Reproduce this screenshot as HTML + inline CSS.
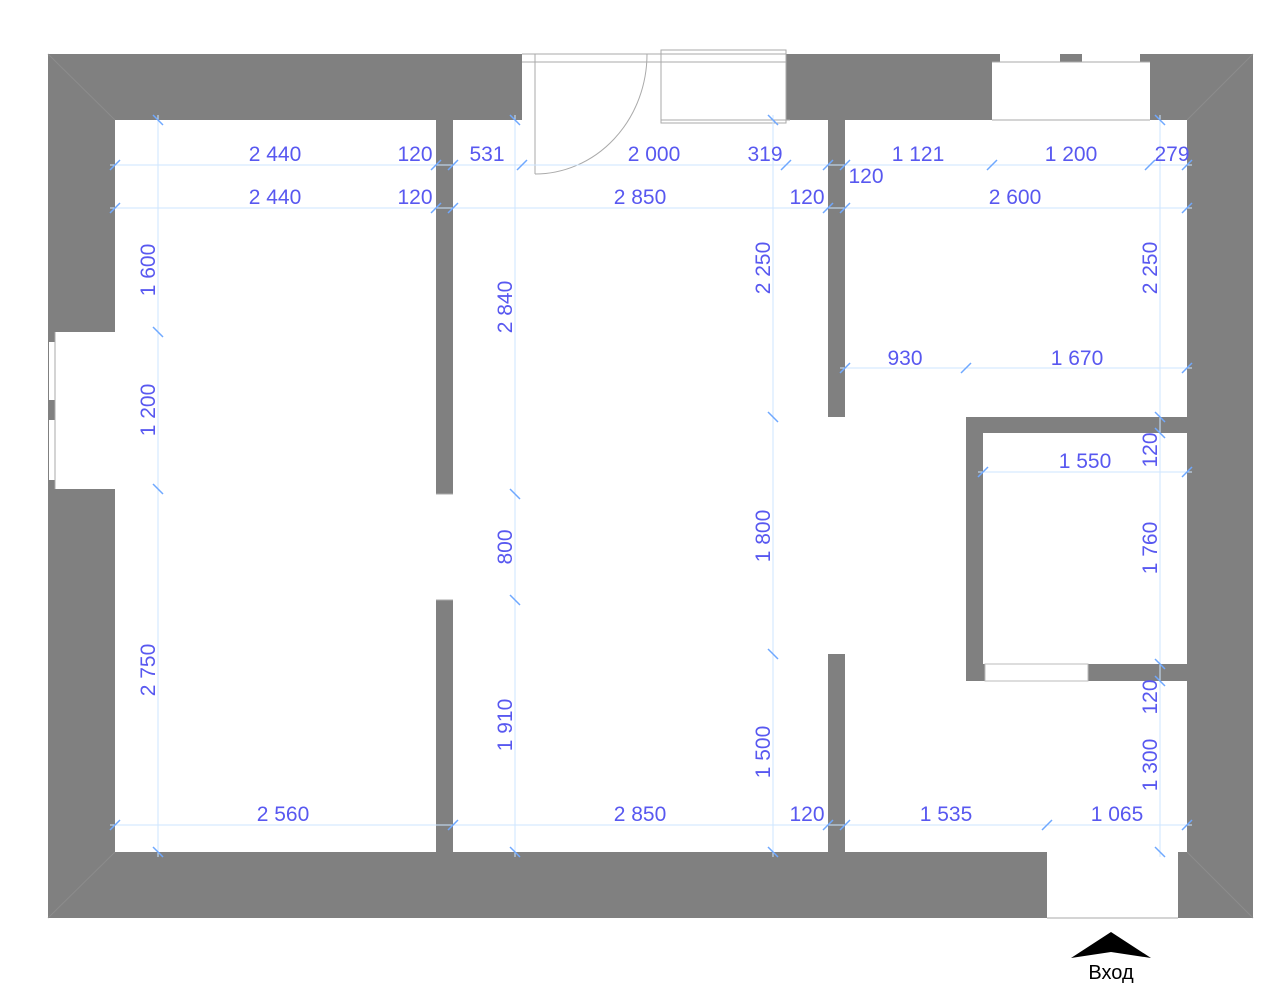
<!DOCTYPE html>
<html><head><meta charset="utf-8"><style>html,body{margin:0;padding:0;background:#fff}svg{display:block}</style></head><body>
<svg width="1283" height="1000" viewBox="0 0 1283 1000" xmlns="http://www.w3.org/2000/svg" font-family="Liberation Sans, sans-serif">
<!-- outer walls -->
<rect x="48" y="54" width="1205" height="864" fill="#808080"/>
<!-- corner diagonals -->
<g stroke="#8c8c8c" stroke-width="1">
<line x1="48" y1="54" x2="115" y2="120"/><line x1="1253" y1="54" x2="1187" y2="120"/>
<line x1="48" y1="918" x2="115" y2="852"/><line x1="1253" y1="918" x2="1187" y2="852"/>
</g>
<g fill="#fff">
<rect x="115" y="120" width="321" height="732"/>
<rect x="453" y="120" width="375" height="732"/>
<rect x="845" y="120" width="342" height="732"/>
<rect x="828" y="417" width="17" height="237"/>
<rect x="436" y="494" width="17" height="106"/>
<!-- top door opening -->
<rect x="522" y="54" width="264" height="66"/>
<!-- top right window -->
<rect x="992" y="62" width="158" height="58"/>
<rect x="1000" y="54" width="60" height="8"/><rect x="1082" y="54" width="58" height="8"/>
<!-- left window -->
<rect x="55" y="332" width="60" height="157"/>
<rect x="49" y="342" width="6" height="58"/><rect x="49" y="420" width="6" height="60"/>
<!-- entrance -->
<rect x="1047" y="852" width="131" height="66"/>
</g>
<!-- bathroom -->
<rect x="966" y="417" width="221" height="264" fill="#808080"/>
<rect x="983" y="433" width="204" height="231" fill="#fff"/>
<rect x="985" y="664" width="103" height="17" fill="#fff" stroke="#bbb" stroke-width="1"/>
<!-- door & window lines -->
<g fill="none" stroke="#aaa" stroke-width="1">
<line x1="522" y1="54" x2="786" y2="54"/><line x1="522" y1="62" x2="786" y2="62"/>
<line x1="535" y1="54" x2="535" y2="174"/>
<path d="M535 174 A112 120 0 0 0 647 54"/>
<rect x="661" y="50" width="125" height="73"/>
<line x1="661" y1="120" x2="790" y2="120"/>
<line x1="436" y1="494" x2="453" y2="494"/><line x1="436" y1="600" x2="453" y2="600"/>
<line x1="992" y1="62" x2="1150" y2="62"/><line x1="992" y1="120" x2="1150" y2="120"/>
<line x1="55" y1="332" x2="55" y2="489"/>
<line x1="1047" y1="918" x2="1178" y2="918"/>
</g>
<!-- dimension lines -->
<g stroke="#cde6ff" stroke-width="1">
<line x1="110" y1="165" x2="1192" y2="165"/>
<line x1="110" y1="208" x2="1192" y2="208"/>
<line x1="840" y1="368" x2="1192" y2="368"/>
<line x1="978" y1="472" x2="1192" y2="472"/>
<line x1="110" y1="825" x2="1192" y2="825"/>
<line x1="158" y1="115" x2="158" y2="857"/>
<line x1="515" y1="115" x2="515" y2="857"/>
<line x1="773" y1="115" x2="773" y2="857"/>
<line x1="1160" y1="115" x2="1160" y2="857"/>
</g>
<g stroke="#6fa8ff" stroke-width="1.5">
<path d="M110 170l10-10M431 170l10-10M448 170l10-10M517 170l10-10M781 170l10-10M823 170l10-10M840 170l10-10M987 170l10-10M1145 170l10-10M1182 170l10-10"/>
<path d="M110 213l10-10M431 213l10-10M448 213l10-10M823 213l10-10M840 213l10-10M1182 213l10-10"/>
<path d="M840 373l10-10M961 373l10-10M1182 373l10-10"/>
<path d="M978 477l10-10M1182 477l10-10"/>
<path d="M110 830l10-10M448 830l10-10M823 830l10-10M840 830l10-10M1042 830l10-10M1182 830l10-10"/>
<path d="M153 115l10 10M153 327l10 10M153 484l10 10M153 847l10 10"/>
<path d="M510 115l10 10M510 489l10 10M510 595l10 10M510 847l10 10"/>
<path d="M768 115l10 10M768 412l10 10M768 649l10 10M768 847l10 10"/>
<path d="M1155 115l10 10M1155 412l10 10M1155 428l10 10M1155 659l10 10M1155 676l10 10M1155 847l10 10"/>
</g>
<g fill="#5858f0" font-size="21" text-anchor="middle">
<text x="275" y="161">2 440</text><text x="415" y="161">120</text><text x="487" y="161">531</text>
<text x="654" y="161">2 000</text><text x="765" y="161">319</text><text x="866" y="183">120</text>
<text x="918" y="161">1 121</text><text x="1071" y="161">1 200</text><text x="1172" y="161">279</text>
<text x="275" y="204">2 440</text><text x="415" y="204">120</text><text x="640" y="204">2 850</text>
<text x="807" y="204">120</text><text x="1015" y="204">2 600</text>
<text x="905" y="365">930</text><text x="1077" y="365">1 670</text>
<text x="1085" y="468">1 550</text>
<text x="283" y="821">2 560</text><text x="640" y="821">2 850</text><text x="807" y="821">120</text>
<text x="946" y="821">1 535</text><text x="1117" y="821">1 065</text>
<text transform="translate(155,270) rotate(-90)">1 600</text>
<text transform="translate(155,410) rotate(-90)">1 200</text>
<text transform="translate(155,670) rotate(-90)">2 750</text>
<text transform="translate(512,307) rotate(-90)">2 840</text>
<text transform="translate(512,547) rotate(-90)">800</text>
<text transform="translate(512,725) rotate(-90)">1 910</text>
<text transform="translate(770,268) rotate(-90)">2 250</text>
<text transform="translate(770,536) rotate(-90)">1 800</text>
<text transform="translate(770,752) rotate(-90)">1 500</text>
<text transform="translate(1157,268) rotate(-90)">2 250</text>
<text transform="translate(1157,450) rotate(-90)">120</text>
<text transform="translate(1157,548) rotate(-90)">1 760</text>
<text transform="translate(1157,697) rotate(-90)">120</text>
<text transform="translate(1157,765) rotate(-90)">1 300</text>
</g>
<!-- entrance arrow -->
<path d="M1071 958 L1111 932 L1151 958 L1111 952 Z" fill="#000"/>
<text x="1111" y="979" font-size="20" text-anchor="middle" fill="#000">Вход</text>
</svg>
</body></html>
